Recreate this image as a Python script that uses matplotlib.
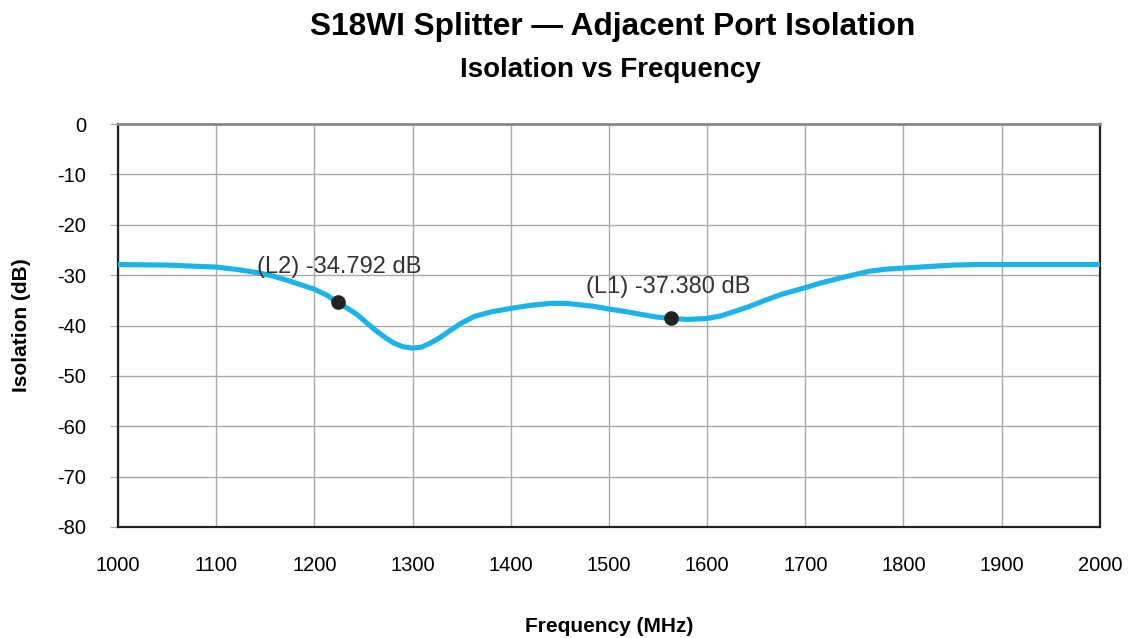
import numpy as np
import matplotlib.pyplot as plt

# datos
frecuencia = [1000, 1050, 1100, 1122, 1142, 1158, 1172, 1186, 1200, 1212, 1223, 1234, 1244,
              1254, 1264, 1273, 1281, 1290, 1300, 1309, 1318, 1328, 1339, 1350, 1363, 1380,
              1400, 1420, 1441, 1456, 1471, 1485, 1499, 1516, 1533, 1548, 1563, 1580, 1600,
              1614, 1628, 1642, 1655, 1666, 1676, 1687, 1698, 1715, 1733, 1750, 1766, 1783,
              1800, 1825, 1851, 1875, 1900, 1950, 2000]
aislamiento = [-27.9, -28.0, -28.4, -28.9, -29.5, -30.2, -31.0, -31.9, -32.8, -33.9, -35.3, -36.6, -37.9,
               -39.6, -41.2, -42.5, -43.5, -44.2, -44.5, -44.3, -43.5, -42.4, -40.9, -39.5, -38.2, -37.3,
               -36.6, -36.0, -35.6, -35.6, -35.9, -36.2, -36.7, -37.2, -37.8, -38.3, -38.6, -38.8, -38.6,
               -38.1, -37.2, -36.3, -35.3, -34.5, -33.8, -33.2, -32.6, -31.6, -30.7, -29.9, -29.2, -28.8,
               -28.6, -28.3, -28.0, -27.9, -27.9, -27.9, -27.9]
marcadores_f = [1223.8, 1563]
marcadores_db = [-35.3, -38.6]
marcadores_txt = ["(L2) -34.792 dB", "(L1) -37.380 dB"]
texto_f = [1142, 1477]
texto_db = [-28.3, -32.3]

xticks = list(range(1000, 2001, 100))
yticks = list(range(0, -81, -10))
yticklabels = [str(v) for v in yticks]  # guion normal, no signo menos

plt.rcParams['font.family'] = ['Liberation Sans', 'DejaVu Sans']

fig = plt.figure(figsize=(11.28, 6.38), dpi=100)
ax = fig.add_axes([0.1046, 0.174, 0.8704, 0.6316])

ax.plot(frecuencia, aislamiento, color='#1ab4e8', lw=3.7, solid_capstyle='round',
        solid_joinstyle='round', zorder=3)
ax.plot(marcadores_f, marcadores_db, 'o', color='#222222', ms=9.5, zorder=4)
for txt, f, db in zip(marcadores_txt, texto_f, texto_db):
    ax.text(f, db, txt, fontsize=17, color='#333333', va='center', ha='left', zorder=5)

ax.set_xlim(1000, 2000)
ax.set_ylim(-80, 0)
ax.set_xticks(xticks)
ax.set_yticks(yticks)
ax.set_yticklabels(yticklabels)
ax.grid(True, color='#aaaaaa', lw=1)
ax.tick_params(axis='x', length=0, pad=21, labelsize=14.5)
ax.tick_params(axis='y', length=6, color='#aaaaaa', pad=17, labelsize=14.5)
for lado in ['left', 'bottom', 'right']:
    ax.spines[lado].set_color('#222222')
    ax.spines[lado].set_linewidth(1.6)
ax.spines['top'].set_color('#888888')
ax.spines['top'].set_linewidth(2)

ax.set_xlabel('Frequency (MHz)', fontsize=15, fontweight='bold', labelpad=30)
ax.set_ylabel('Isolation (dB)', fontsize=15, fontweight='bold', labelpad=19)

fig.text(0.543, 0.957, 'S18WI Splitter \u2014 Adjacent Port Isolation', ha='center', va='center',
         fontsize=22.8, fontweight='bold')
fig.text(0.541, 0.891, 'Isolation vs Frequency', ha='center', va='center',
         fontsize=20, fontweight='bold')

fig.savefig('out.png', dpi=100)
